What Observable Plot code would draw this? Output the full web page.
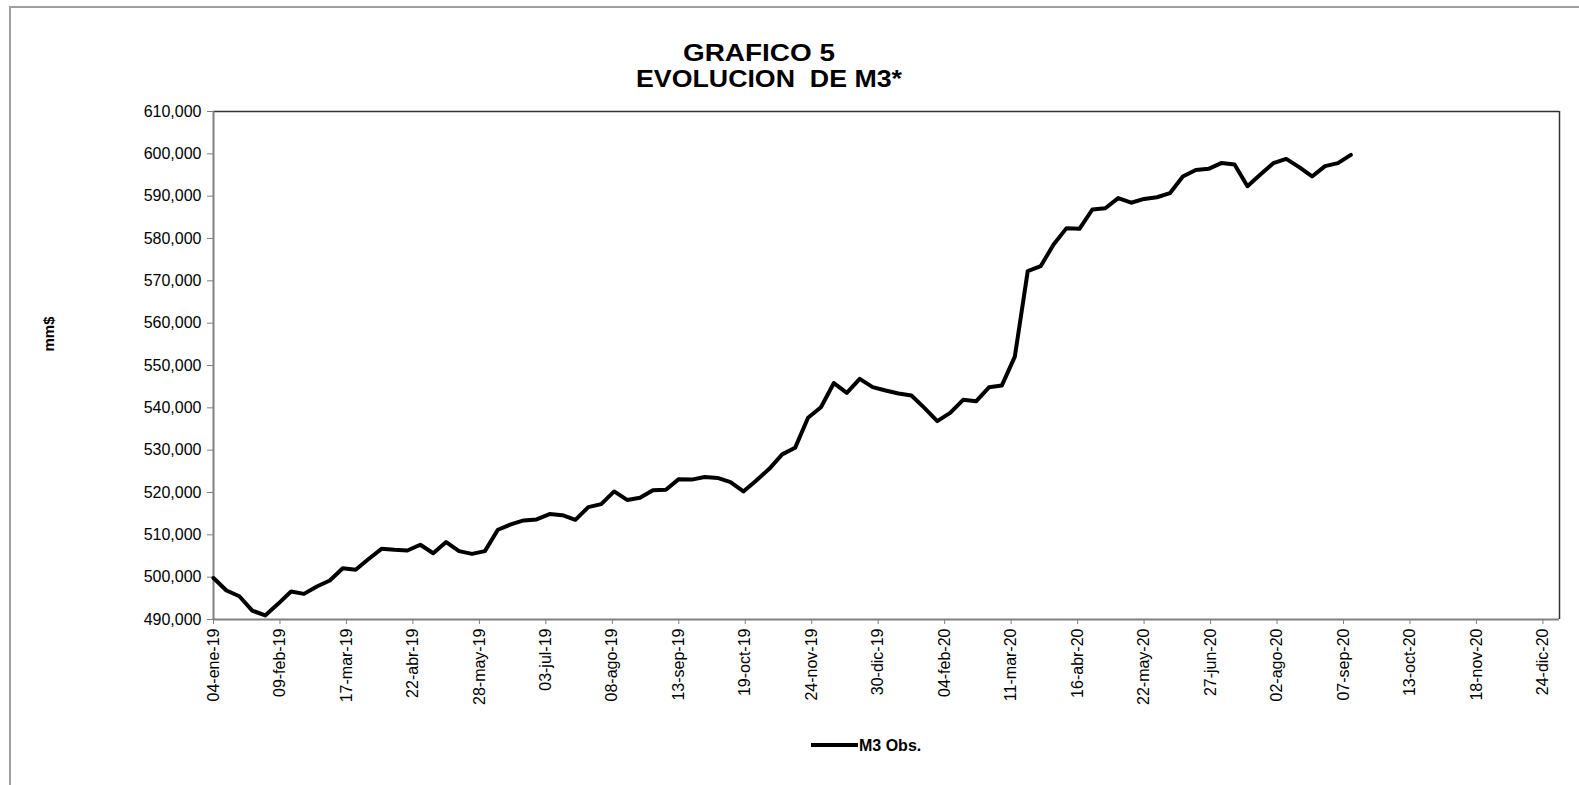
<!DOCTYPE html>
<html>
<head>
<meta charset="utf-8">
<script src="https://cdn.jsdelivr.net/npm/d3@7"></script>
<script src="https://cdn.jsdelivr.net/npm/@observablehq/plot@0.6"></script>
<style>
  body { margin: 0; background: #fff; }
  #wrap { position: relative; width: 1579px; height: 785px; overflow: hidden; background: #fff; }
  #wrap svg { position: absolute; left: 0; top: 0; }
</style>
</head>
<body>
<div id="wrap"></div>
<script>
const dates = [
  "2019-01-04","2019-01-11","2019-01-18","2019-01-25","2019-02-01","2019-02-08","2019-02-15","2019-02-22",
  "2019-03-01","2019-03-08","2019-03-15","2019-03-22","2019-03-29","2019-04-05","2019-04-12","2019-04-19",
  "2019-04-26","2019-05-03","2019-05-10","2019-05-17","2019-05-24","2019-05-31","2019-06-07","2019-06-14",
  "2019-06-21","2019-06-28","2019-07-05","2019-07-12","2019-07-19","2019-07-26","2019-08-02","2019-08-09",
  "2019-08-16","2019-08-23","2019-08-30","2019-09-06","2019-09-13","2019-09-20","2019-09-27","2019-10-04",
  "2019-10-11","2019-10-18","2019-10-25","2019-11-01","2019-11-08","2019-11-15","2019-11-22","2019-11-29",
  "2019-12-06","2019-12-13","2019-12-20","2019-12-27","2020-01-03","2020-01-10","2020-01-17","2020-01-24",
  "2020-01-31","2020-02-07","2020-02-14","2020-02-21","2020-02-28","2020-03-06","2020-03-13","2020-03-20",
  "2020-03-27","2020-04-03","2020-04-10","2020-04-17","2020-04-24","2020-05-01","2020-05-08","2020-05-15",
  "2020-05-22","2020-05-29","2020-06-05","2020-06-12","2020-06-19","2020-06-26","2020-07-03","2020-07-10",
  "2020-07-17","2020-07-24","2020-07-31","2020-08-07","2020-08-14","2020-08-21","2020-08-28","2020-09-04",
  "2020-09-11"
];
const m3Obs = [
  499800,496850,495500,492100,490950,493700,496600,496050,
  497800,499200,502100,501750,504300,506700,506450,506300,
  507650,505650,508300,506150,505500,506150,511200,512450,
  513400,513650,514900,514650,513550,516550,517250,520250,
  518250,518750,520550,520650,523150,523050,523650,523450,
  522450,520250,522850,525600,529000,530550,537650,540150,
  545850,543550,546850,544900,544100,543400,542900,540000,
  536850,538800,541900,541550,544850,545300,552100,572300,
  573450,578600,582450,582300,586850,587150,589550,588450,
  589350,589750,590700,594650,596200,596450,597850,597500,
  592350,595100,597800,598800,596850,594650,597100,597800,
  599750
];
const xTickDates = [
  "2019-01-04","2019-02-09","2019-03-17","2019-04-22","2019-05-28","2019-07-03","2019-08-08",
  "2019-09-13","2019-10-19","2019-11-24","2019-12-30","2020-02-04","2020-03-11","2020-04-16",
  "2020-05-22","2020-06-27","2020-08-02","2020-09-07","2020-10-13","2020-11-18","2020-12-24"
];
const xTickLabels = [
  "04-ene-19","09-feb-19","17-mar-19","22-abr-19","28-may-19","03-jul-19","08-ago-19",
  "13-sep-19","19-oct-19","24-nov-19","30-dic-19","04-feb-20","11-mar-20","16-abr-20",
  "22-may-20","27-jun-20","02-ago-20","07-sep-20","13-oct-20","18-nov-20","24-dic-20"
];
const yTicks = [490000,500000,510000,520000,530000,540000,550000,560000,570000,580000,590000,600000,610000];
const xDomain = ["2019-01-04","2021-01-02"];
const yDomain = [490000, 610000];
const titleLines = ["GRAFICO 5", "EVOLUCION  DE M3*"];
const yLabel = "mm$";
const seriesName = "M3 Obs.";

// ---- Build ----
const data = dates.map((d, i) => ({date: new Date(d), value: m3Obs[i]}));
const tickDates = xTickDates.map(d => new Date(d));
const labelMap = new Map(tickDates.map((d, i) => [+d, xTickLabels[i]]));
const xd = xDomain.map(d => new Date(d));
const fmt = d3.format(",");
const FONT = "'Liberation Sans', Arial, sans-serif";

const W = 1579, H = 785;
const chart = Plot.plot({
  width: W, height: H,
  marginLeft: 213, marginRight: 20, marginTop: 111, marginBottom: 166,
  x: {type: "utc", domain: xd},
  y: {domain: yDomain},
  style: {background: "transparent", fontFamily: FONT, fontSize: "16px", color: "#000"},
  marks: [
    Plot.axisY({ticks: yTicks, tickFormat: d => fmt(d), tickSize: 6, tickPadding: 6,
                stroke: "#808080", label: null, fontSize: 16, fill: "#000"}),
    Plot.axisX({ticks: tickDates, tickFormat: d => labelMap.get(+d), tickRotate: -90,
                tickSize: 5, tickPadding: 4, stroke: "#808080", label: null, fontSize: 16, fill: "#000"}),
    Plot.ruleY([yDomain[1]], {stroke: "#333", strokeWidth: 1.5}),
    Plot.ruleX([xd[1]], {stroke: "#333", strokeWidth: 1.5}),
    Plot.ruleY([yDomain[0]], {stroke: "#808080", strokeWidth: 2}),
    Plot.ruleX([xd[0]], {stroke: "#808080", strokeWidth: 2}),
    Plot.line(data, {x: "date", y: "value", stroke: "#000", strokeWidth: 4, strokeLinejoin: "round"})
  ]
});

const wrap = document.getElementById("wrap");

// overlay: frame, titles, y label, legend
const ov = d3.create("svg").attr("width", W).attr("height", H)
  .attr("font-family", FONT);
ov.append("path").attr("d", `M10,${H + 5} V7 H${W + 5}`)
  .attr("fill", "none").attr("stroke", "#a0a0a0").attr("stroke-width", 2);
ov.append("text").attr("x", 759).attr("y", 60.7).attr("text-anchor", "middle")
  .attr("font-size", 24).attr("font-weight", "bold")
  .attr("textLength", 152).attr("lengthAdjust", "spacingAndGlyphs").text(titleLines[0]);
ov.append("text").attr("x", 769).attr("y", 86.7).attr("text-anchor", "middle")
  .attr("font-size", 24).attr("font-weight", "bold").style("white-space", "pre")
  .attr("textLength", 266).attr("lengthAdjust", "spacingAndGlyphs").text(titleLines[1]);
ov.append("text").attr("transform", "translate(53.5,334) rotate(-90)").attr("text-anchor", "middle")
  .attr("font-size", 15).attr("font-weight", "bold").text(yLabel);
ov.append("line").attr("x1", 811).attr("x2", 858).attr("y1", 745).attr("y2", 745)
  .attr("stroke", "#000").attr("stroke-width", 4);
ov.append("text").attr("x", 859).attr("y", 751).attr("font-size", 16).attr("font-weight", "bold")
  .text(seriesName);

wrap.appendChild(chart);
wrap.appendChild(ov.node());
</script>
</body>
</html>
